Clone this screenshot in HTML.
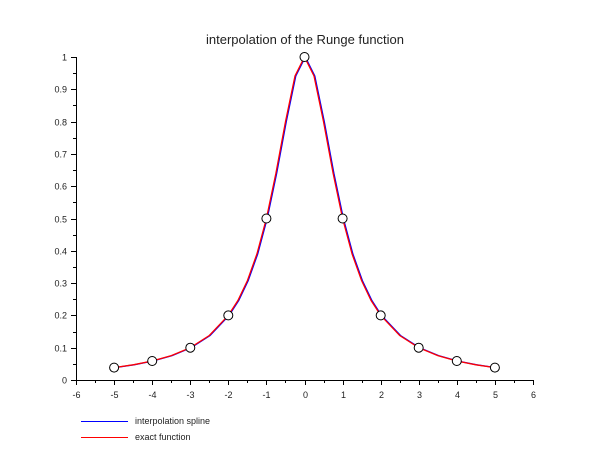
<!DOCTYPE html>
<html><head><meta charset="utf-8"><style>body{margin:0;background:#fff}svg{display:block}text{font-family:"Liberation Sans",sans-serif;font-size:9px;fill:#222}</style></head><body>
<svg width="610" height="460" viewBox="0 0 610 460">
<text x="305" y="44" text-anchor="middle" style="font-size:13px">interpolation of the Runge function</text>
<g stroke="#000" stroke-width="1" fill="none">
<line x1="76" y1="380.5" x2="533" y2="380.5"/>
<line x1="76.5" y1="57" x2="76.5" y2="380"/>
</g>
<g id="xt" stroke="#000"></g>
<g id="lab"></g>
<polyline fill="none" stroke="#00f" stroke-width="1.3" points="114.1,367.6 133.2,364.8 152.2,361.0 171.3,355.6 190.3,347.7 209.3,335.5 228.3,315.4 237.9,300.5 247.4,280.6 256.9,254.0 266.4,218.5 275.9,173.3 285.5,121.6 295.0,76.0 304.5,57 314.0,76.0 323.5,121.6 333.1,173.3 342.6,218.5 352.1,254.0 361.6,280.6 371.1,300.5 380.7,315.4 399.7,335.5 418.7,347.7 437.8,355.6 456.8,361.0 475.9,364.8 494.9,367.6" transform="translate(0.8,0)"/>
<polyline fill="none" stroke="#f00" stroke-width="1.3" points="114.1,367.6 133.2,364.8 152.2,361.0 171.3,355.6 190.3,347.7 209.3,335.5 228.3,315.4 237.9,300.5 247.4,280.6 256.9,254.0 266.4,218.5 275.9,173.3 285.5,121.6 295.0,76.0 304.5,57 314.0,76.0 323.5,121.6 333.1,173.3 342.6,218.5 352.1,254.0 361.6,280.6 371.1,300.5 380.7,315.4 399.7,335.5 418.7,347.7 437.8,355.6 456.8,361.0 475.9,364.8 494.9,367.6"/>
<g fill="#fff" stroke="#000" stroke-width="1">
<circle cx="114.1" cy="367.6" r="4.5"/><circle cx="152.2" cy="361" r="4.5"/><circle cx="190.3" cy="347.7" r="4.5"/><circle cx="228.3" cy="315.4" r="4.5"/><circle cx="266.4" cy="218.5" r="4.5"/><circle cx="304.5" cy="57" r="4.5"/><circle cx="342.6" cy="218.5" r="4.5"/><circle cx="380.7" cy="315.4" r="4.5"/><circle cx="418.7" cy="347.7" r="4.5"/><circle cx="456.8" cy="361" r="4.5"/><circle cx="494.9" cy="367.6" r="4.5"/>
</g>
<line x1="81" y1="421.5" x2="128" y2="421.5" stroke="#00f" stroke-width="1"/>
<line x1="81" y1="437.5" x2="128" y2="437.5" stroke="#f00" stroke-width="1"/>
<text x="135" y="424">interpolation spline</text>
<text x="135" y="440">exact function</text>
</svg>
<script>
var ns="http://www.w3.org/2000/svg",t=document.getElementById("xt"),l=document.getElementById("lab");
function ln(a,b,c,d){var e=document.createElementNS(ns,"line");e.setAttribute("x1",a);e.setAttribute("y1",b);e.setAttribute("x2",c);e.setAttribute("y2",d);t.appendChild(e);}
function tx(x,y,s,a){var e=document.createElementNS(ns,"text");e.setAttribute("x",x);e.setAttribute("y",y);e.setAttribute("text-anchor",a);e.textContent=s;l.appendChild(e);}
for(var i=-12;i<=12;i++){var x=Math.round(304.5+19.04*i)+0.5;ln(x,380,x,i%2==0?385:383);if(i%2==0)tx(x,398,String(i/2),"middle");}
for(var j=0;j<=20;j++){var y=Math.round(380-16.15*j)+0.5;ln(76,y,j%2==0?71:73,y);if(j%2==0){var v=j/20;tx(67,y+3,v==0?"0":v==1?"1":v.toFixed(1),"end");}}
</script>
</body></html>
